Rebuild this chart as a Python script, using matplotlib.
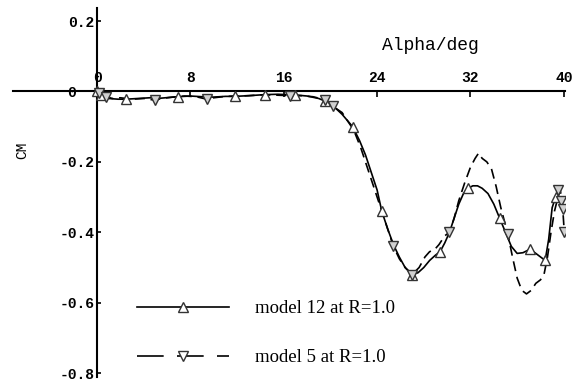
import matplotlib
matplotlib.use("Agg")
import matplotlib.pyplot as plt
from matplotlib.lines import Line2D

# ---- data ----
m12_alpha = [0, 0.5, 1.0, 1.8, 2.5, 3.5, 4.5, 5.5, 6.9, 8.0, 9.0, 10.0, 11.0, 11.8, 13.0,
             14.4, 15.5, 17.0, 18.0, 19.0, 19.5, 20.2, 21.0, 21.9, 22.5, 23.0, 23.5, 24.0,
             24.4, 24.9, 25.4, 25.9, 26.4, 27.0, 27.5, 28.0, 28.5, 29.0, 29.4, 29.8, 30.2,
             30.6, 31.0, 31.4, 31.8, 32.2, 32.6, 33.0, 33.5, 34.0, 34.5, 35.0, 35.5, 36.0,
             36.5, 37.1, 37.6, 38.0, 38.4, 38.7, 39.0, 39.3]
m12_cm = [0, -0.012, -0.02, -0.022, -0.022, -0.02, -0.018, -0.019, -0.015, -0.013, -0.015,
          -0.016, -0.014, -0.014, -0.012, -0.009, -0.008, -0.010, -0.013, -0.02, -0.027,
          -0.04, -0.065, -0.10, -0.14, -0.18, -0.23, -0.28, -0.34, -0.39, -0.435, -0.47,
          -0.50, -0.52, -0.515, -0.50, -0.48, -0.465, -0.455, -0.43, -0.40, -0.36, -0.32,
          -0.29, -0.275, -0.268, -0.268, -0.275, -0.29, -0.32, -0.36, -0.40, -0.44, -0.46,
          -0.458, -0.448, -0.46, -0.47, -0.48, -0.42, -0.33, -0.30]
m12_mk_alpha = [0, 0.3, 2.5, 6.9, 11.8, 14.4, 17.0, 19.5, 21.9, 24.4, 27.0, 29.4, 31.8,
                34.5, 37.1, 38.4, 39.3]
m12_mk_cm = [0, -0.01, -0.022, -0.015, -0.014, -0.009, -0.010, -0.027, -0.10, -0.34,
             -0.52, -0.455, -0.275, -0.36, -0.448, -0.48, -0.30]

m5_alpha = [0, 0.2, 0.5, 0.8, 1.3, 2.0, 3.0, 4.0, 5.0, 5.5, 6.5, 7.5, 8.5, 9.4, 10.0, 11.0,
            12.0, 13.0, 14.0, 15.0, 16.5, 17.5, 18.5, 19.5, 20.2, 21.0, 22.0, 22.6, 23.2,
            23.8, 24.4, 24.9, 25.4, 25.9, 26.4, 27.0, 27.6, 28.1, 28.5, 28.9, 29.3, 29.8,
            30.2, 30.6, 31.0, 31.5, 32.0, 32.4, 32.7, 33.0, 33.4, 33.8, 34.2, 34.6, 35.2,
            35.6, 36.0, 36.4, 36.8, 37.2, 37.6, 38.0, 38.3, 38.6, 38.9, 39.2, 39.5, 39.7,
            39.9, 40.0]
m5_cm = [0.01, -0.01, 0.0, -0.015, -0.02, -0.018, -0.022, -0.02, -0.025, -0.02, -0.016,
         -0.013, -0.015, -0.022, -0.018, -0.014, -0.013, -0.012, -0.01, -0.01, -0.012,
         -0.012, -0.015, -0.023, -0.042, -0.06, -0.11, -0.16, -0.22, -0.28, -0.34, -0.39,
         -0.44, -0.475, -0.50, -0.52, -0.50, -0.47, -0.455, -0.45, -0.435, -0.41, -0.40,
         -0.36, -0.31, -0.26, -0.215, -0.19, -0.175, -0.19, -0.20, -0.22, -0.27, -0.33,
         -0.405, -0.47, -0.53, -0.565, -0.575, -0.565, -0.545, -0.535, -0.52, -0.47,
         -0.40, -0.34, -0.30, -0.28, -0.33, -0.38]
m5_mk_alpha = [0.2, 0.8, 5.0, 9.4, 16.5, 19.5, 20.2, 25.4, 27.0, 30.2, 35.2, 39.5, 39.8,
               39.9, 40.0]
m5_mk_cm = [-0.005, -0.015, -0.025, -0.022, -0.012, -0.023, -0.042, -0.44, -0.52, -0.40,
            -0.405, -0.28, -0.31, -0.335, -0.40]

x_ticks = [0, 8, 16, 24, 32, 40]
y_ticks = [0.2, 0, -0.2, -0.4, -0.6, -0.8]
y_labels = ["0.2", "0  ", "-0.2", "-0.4", "-0.6", "-0.8"]
series_labels = ["model 12 at R=1.0", "model 5 at R=1.0"]

# ---- figure ----
W, H = 575, 381
fig = plt.figure(figsize=(W / 100, H / 100), dpi=100)
ax = fig.add_axes([13 / W, 4 / H, 552 / W, 369 / H])
ax.set_xlim(-7.2, 40.1)
ax.set_ylim(-0.811, 0.237)

ax.plot(m12_alpha, m12_cm, color="black", lw=1.2, zorder=3)
ax.plot(m12_mk_alpha, m12_mk_cm, ls="none", marker="^", ms=6.5, mfc="white",
        mec="#333333", mew=1.0, zorder=4)
ax.plot(m5_alpha, m5_cm, color="black", lw=1.2, ls=(0, (6, 3.5)), zorder=3)
ax.plot(m5_mk_alpha, m5_mk_cm, ls="none", marker="v", ms=6.5, mfc="#d0d0d0",
        mec="#333333", mew=1.0, zorder=4)

for s in ["top", "right"]:
    ax.spines[s].set_visible(False)
ax.spines["left"].set_position(("data", 0))
ax.spines["bottom"].set_position(("data", 0))
ax.spines["left"].set_linewidth(1.5)
ax.spines["bottom"].set_linewidth(1.5)

tick_font = dict(family="Liberation Mono", weight="bold", size=10.5)
ax.set_xticks(x_ticks)
ax.set_xticklabels([str(t) for t in x_ticks], **tick_font)
ax.set_yticks(y_ticks)
ax.set_yticklabels(y_labels, **tick_font)
ax.tick_params(axis="x", direction="out", length=4, width=1.2, pad=-19)
ax.tick_params(axis="y", direction="in", length=3, width=1.2, pad=2)

fig.text(430 / W, 1 - 45 / H, "Alpha/deg", family="Liberation Mono", size=13,
         ha="center", va="center")
fig.text(22 / W, 1 - 150 / H, "CM", family="Liberation Mono", size=10.5,
         rotation=90, ha="center", va="center")

h1 = Line2D([], [], color="black", lw=1.2, marker="^", ms=6.5, mfc="white",
            mec="#333333", mew=1.0)
h2 = Line2D([], [], color="black", lw=1.2, ls=(0, (16, 8)), marker="v", ms=6.5,
            mfc="white", mec="#333333", mew=1.0)
ax.legend([h1, h2], series_labels, loc="upper left",
          bbox_to_anchor=(137 / W, 1 - 300 / H), bbox_transform=fig.transFigure,
          frameon=False, prop=dict(family="Liberation Serif", size=13.5),
          handlelength=4.9, handletextpad=1.4, labelspacing=1.7, borderpad=0,
          borderaxespad=0)

fig.savefig("out.png", dpi=100)
